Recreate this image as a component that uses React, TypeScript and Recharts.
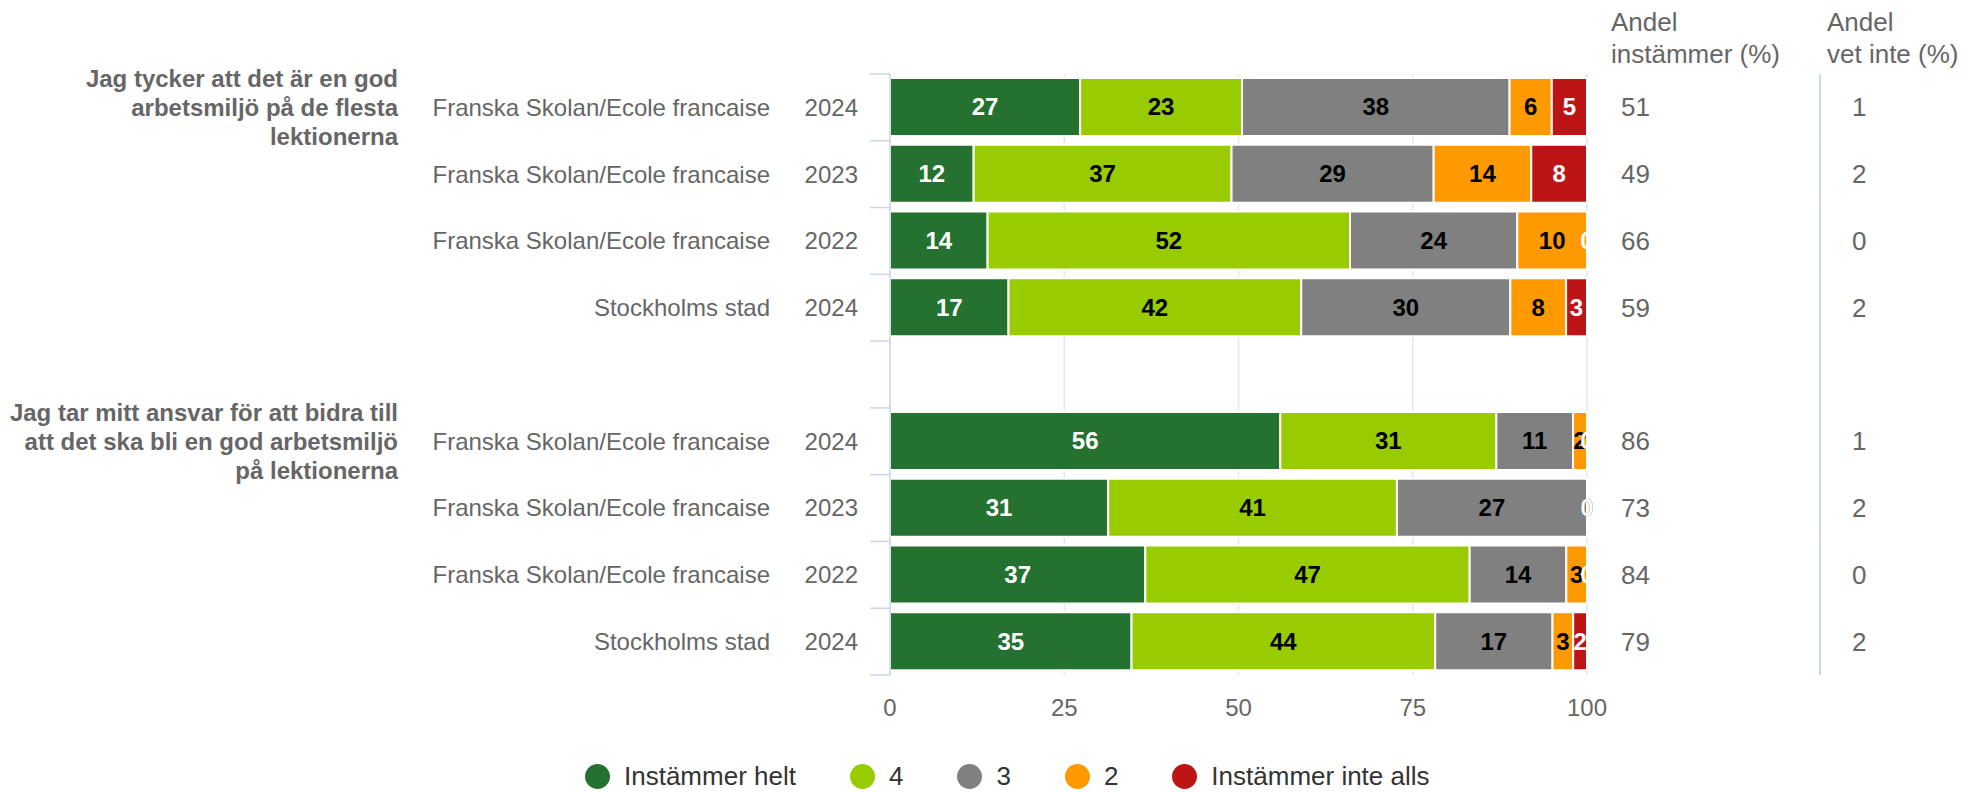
import React from "react";
import { BarChart, Bar, XAxis, YAxis, CartesianGrid, LabelList } from "recharts";

const groupLabels: string[][] = [
  ["Jag tycker att det är en god", "arbetsmiljö på de flesta", "lektionerna"],
  ["Jag tar mitt ansvar för att bidra till", "att det ska bli en god arbetsmiljö", "på lektionerna"],
];
const groupStartRows = [0, 5];

const units = [
  "Franska Skolan/Ecole francaise",
  "Franska Skolan/Ecole francaise",
  "Franska Skolan/Ecole francaise",
  "Stockholms stad",
  "",
  "Franska Skolan/Ecole francaise",
  "Franska Skolan/Ecole francaise",
  "Franska Skolan/Ecole francaise",
  "Stockholms stad",
];
const years = ["2024", "2023", "2022", "2024", "", "2024", "2023", "2022", "2024"];

const instammerHelt = [27, 12, 14, 17, null, 56, 31, 37, 35];
const fyra = [23, 37, 52, 42, null, 31, 41, 47, 44];
const tre = [38, 29, 24, 30, null, 11, 27, 14, 17];
const tva = [6, 14, 10, 8, null, 2, 0, 3, 3];
const instammerInteAlls = [5, 8, 0, 3, null, 0, 0, 0, 2];

const andelInstammer = [51, 49, 66, 59, null, 86, 73, 84, 79];
const andelVetInte = [1, 2, 0, 2, null, 1, 2, 0, 2];

const seriesNames = ["Instämmer helt", "4", "3", "2", "Instämmer inte alls"];
const seriesValues = [instammerHelt, fyra, tre, tva, instammerInteAlls];
const seriesColors = ["#257230", "#99cc00", "#808080", "#ff9900", "#bd1515"];
const labelColors = ["#ffffff", "#000000", "#000000", "#000000", "#ffffff"];

const xTicks = [0, 25, 50, 75, 100];
const headers = [
  ["Andel", "instämmer (%)"],
  ["Andel", "vet inte (%)"],
];

const FONT = "'Liberation Sans', Arial, Helvetica, sans-serif";
const W = 1972;
const H = 792;
const PLOT_TOP = 74;
const X_AXIS_H = 40;
const BOTTOM_MARGIN = 77;
const PLOT_BOTTOM = H - BOTTOM_MARGIN - X_AXIS_H;
const BAND = (PLOT_BOTTOM - PLOT_TOP) / units.length;
const AXIS_COLOR = "#ccd6eb";

const data = units.map((u, i) => {
  const row: Record<string, any> = { key: String(i), unit: u, year: years[i] };
  seriesValues.forEach((vals, s) => {
    row["s" + s] = vals[i];
  });
  return row;
});

function YTick(props: any) {
  const { y, payload } = props;
  const i = Number(payload.value);
  const gIdx = groupStartRows.indexOf(i);
  const top = y - BAND / 2;
  const bottom = y + BAND / 2;
  return (
    <g style={{ fontFamily: FONT }}>
      <line x1={870} x2={890} y1={top} y2={top} stroke={AXIS_COLOR} strokeWidth={1.5} />
      {i === units.length - 1 && (
        <line x1={870} x2={890} y1={bottom} y2={bottom} stroke={AXIS_COLOR} strokeWidth={1.5} />
      )}
      <line x1={1820} x2={1820} y1={top} y2={bottom} stroke={AXIS_COLOR} strokeWidth={2} />
      {gIdx >= 0 &&
        groupLabels[gIdx].map((line, k) => (
          <text
            key={k}
            x={398}
            y={y + (k - (groupLabels[gIdx].length - 1) / 2) * 29}
            dy="0.35em"
            textAnchor="end"
            fill="#666666"
            fontSize={24}
            fontWeight="bold"
          >
            {line}
          </text>
        ))}
      {units[i] && (
        <text x={770} y={y} dy="0.35em" textAnchor="end" fill="#666666" fontSize={24}>
          {units[i]}
        </text>
      )}
      {years[i] && (
        <text x={858} y={y} dy="0.35em" textAnchor="end" fill="#666666" fontSize={24}>
          {years[i]}
        </text>
      )}
      {andelInstammer[i] !== null && (
        <text x={1621} y={y} dy="0.35em" textAnchor="start" fill="#666666" fontSize={26}>
          {andelInstammer[i]}
        </text>
      )}
      {andelVetInte[i] !== null && (
        <text x={1852} y={y} dy="0.35em" textAnchor="start" fill="#666666" fontSize={26}>
          {andelVetInte[i]}
        </text>
      )}
    </g>
  );
}

function XTick(props: any) {
  const { x, y, payload } = props;
  return (
    <text
      x={x}
      y={y + 41}
      textAnchor="middle"
      fill="#666666"
      fontSize={24}
      style={{ fontFamily: FONT }}
    >
      {Math.round(payload.value * 100)}
    </text>
  );
}

function labelText(key: string, x: number, y: number, color: string, value: number) {
  return (
    <text
      key={key}
      x={x}
      y={y}
      dy="0.35em"
      textAnchor="middle"
      fill={color}
      fontSize={24}
      fontWeight="bold"
      style={{ fontFamily: FONT }}
    >
      {value}
    </text>
  );
}

function makeLabel(s: number) {
  return (props: any) => {
    const vb = props.viewBox || props;
    const x = Number(vb.x ?? props.x);
    const y = Number(vb.y ?? props.y);
    const width = Number(vb.width ?? props.width);
    const height = Number(vb.height ?? props.height);
    const value = props.value;
    if (value === null || value === undefined || value === 0) return null;
    const cy = y + height / 2;
    const row = Math.floor((cy - PLOT_TOP) / BAND);
    const out: React.ReactNode[] = [labelText("v", x + width / 2, cy, labelColors[s], value)];
    // zero-valued following segments sit at this segment's end
    for (let t = s + 1; t < seriesValues.length; t++) {
      if (seriesValues[t][row] === 0) {
        out.push(labelText("z" + t, x + width, cy, labelColors[t], 0));
      } else {
        break;
      }
    }
    return <g>{out}</g>;
  };
}

export default function App() {
  return (
    <div
      style={{
        position: "absolute",
        left: 0,
        top: 0,
        width: W,
        height: H,
        background: "#ffffff",
        fontFamily: FONT,
      }}
    >
      <BarChart
        width={W}
        height={H}
        data={data}
        layout="vertical"
        stackOffset="expand"
        margin={{ top: PLOT_TOP, right: 385, bottom: BOTTOM_MARGIN, left: 0 }}
      >
        <CartesianGrid horizontal={false} vertical={true} stroke="#e6e6e6" strokeWidth={1.5} />
        <XAxis
          type="number"
          domain={[0, 1]}
          ticks={xTicks.map((t) => t / 100)}
          axisLine={false}
          tickLine={false}
          tickSize={0}
          tickMargin={0}
          height={X_AXIS_H}
          tick={<XTick />}
          interval={0}
        />
        <YAxis
          type="category"
          dataKey="key"
          width={890}
          axisLine={{ stroke: AXIS_COLOR, strokeWidth: 1.5 }}
          tickLine={false}
          interval={0}
          tick={<YTick />}
        />
        {seriesNames.map((name, s) => (
          <Bar
            key={name}
            dataKey={"s" + s}
            name={name}
            stackId="a"
            fill={seriesColors[s]}
            stroke="#ffffff"
            strokeWidth={2}
            barSize={58}
            isAnimationActive={false}
          >
            <LabelList dataKey={"s" + s} content={makeLabel(s)} />
          </Bar>
        ))}
      </BarChart>
      <svg
        width={W}
        height={H}
        style={{ position: "absolute", left: 0, top: 0, pointerEvents: "none" }}
      >
        {headers.map((lines, h) =>
          lines.map((line, k) => (
            <text
              key={h + "-" + k}
              x={h === 0 ? 1611 : 1827}
              y={31 + k * 32}
              fill="#666666"
              fontSize={26}
              style={{ fontFamily: FONT }}
            >
              {line}
            </text>
          ))
        )}
      </svg>
      <div
        style={{
          position: "absolute",
          left: 585,
          top: 761,
          height: 30,
          display: "flex",
          alignItems: "center",
          whiteSpace: "nowrap",
        }}
      >
        {seriesNames.map((name, s) => (
          <div
            key={name}
            style={{ display: "flex", alignItems: "center", marginRight: s < seriesNames.length - 1 ? 54 : 0 }}
          >
            <span
              style={{
                display: "inline-block",
                width: 25,
                height: 25,
                borderRadius: "50%",
                background: seriesColors[s],
                marginRight: 14,
              }}
            />
            <span style={{ fontSize: 26, color: "#333333", lineHeight: "30px" }}>{name}</span>
          </div>
        ))}
      </div>
    </div>
  );
}
